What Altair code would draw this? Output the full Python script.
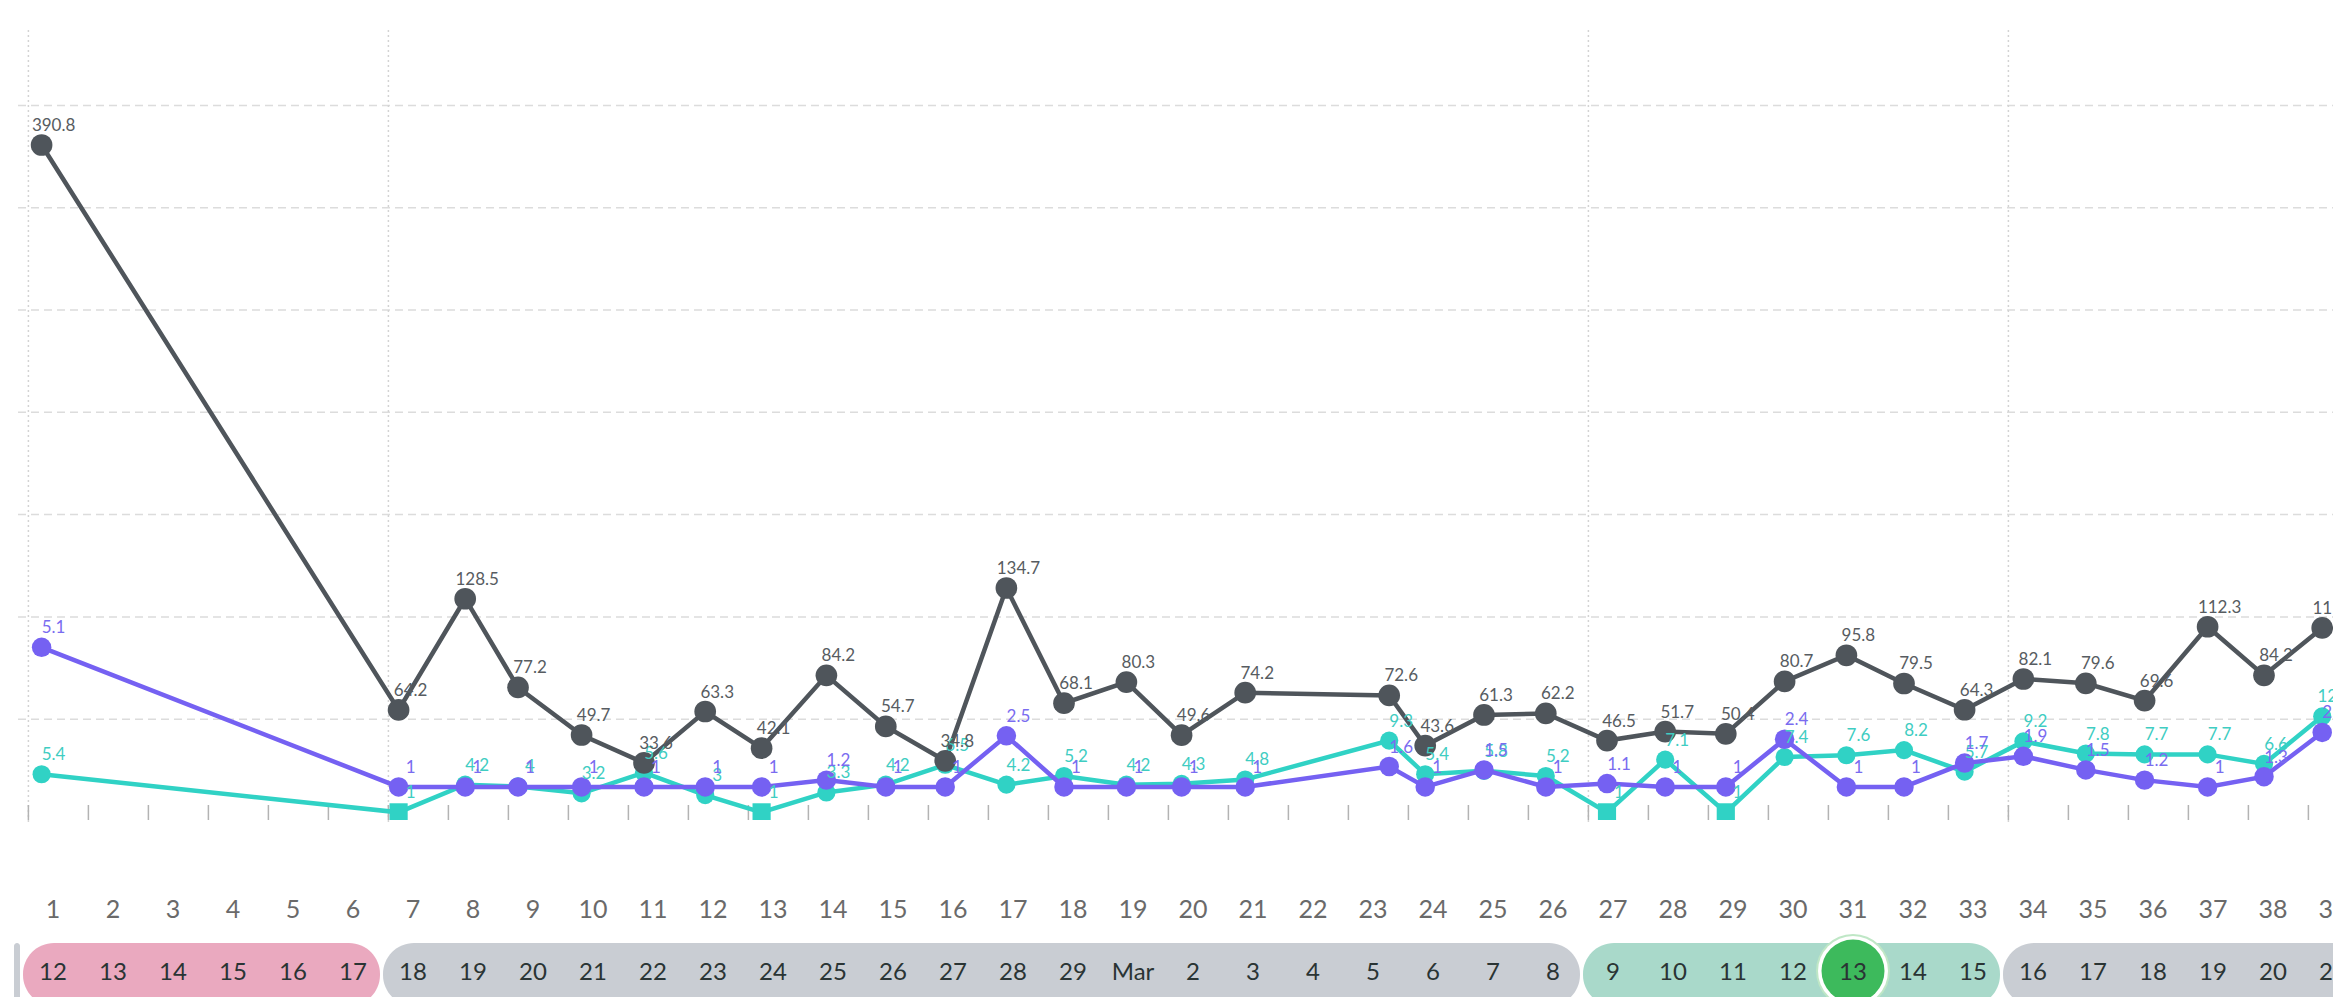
import altair as alt
import pandas as pd

# ---------------- data ----------------
# reading time, in cycle-day units (day d label sits at d)
read_time = [0.81, 6.76, 7.87, 8.75, 9.81, 10.85, 11.87, 12.81, 13.89, 14.88,
             15.87, 16.89, 17.85, 18.89, 19.81, 20.87, 23.27, 23.87, 24.85, 25.88,
             26.9, 27.87, 28.88, 29.86, 30.89, 31.85, 32.86, 33.84, 34.88, 35.86,
             36.91, 37.85, 38.82]
gray_vals = [390.8, 64.2, 128.5, 77.2, 49.7, 33.6, 63.3, 42.1, 84.2, 54.7,
             34.8, 134.7, 68.1, 80.3, 49.6, 74.2, 72.6, 43.6, 61.3, 62.2,
             46.5, 51.7, 50.4, 80.7, 95.8, 79.5, 64.3, 82.1, 79.6, 69.6,
             112.3, 84.2, 111.6]
purple_vals = [5.1, 1, 1, 1, 1, 1, 1, 1, 1.2, 1,
               1, 2.5, 1, 1, 1, 1, 1.6, 1, 1.5, 1,
               1.1, 1, 1, 2.4, 1, 1, 1.7, 1.9, 1.5, 1.2,
               1, 1.3, 2.6]
teal_vals = [5.4, 1, 4.2, 4, 3.2, 5.6, 3, 1, 3.3, 4.2,
             6.5, 4.2, 5.2, 4.2, 4.3, 4.8, 9.3, 5.4, 5.8, 5.2,
             1, 7.1, 1, 7.4, 7.6, 8.2, 5.7, 9.2, 7.8, 7.7,
             7.7, 6.6, 12.1]

cycle_days = list(range(1, 40))
date_labels = ["12", "13", "14", "15", "16", "17", "18", "19", "20", "21",
               "22", "23", "24", "25", "26", "27", "28", "29", "Mar", "2",
               "3", "4", "5", "6", "7", "8", "9", "10", "11", "12",
               "13", "14", "15", "16", "17", "18", "19", "20", "21"]

phase_start = [0.85, 1, 7, 27, 34]
phase_end = [0, 6, 26, 33, 45]
phase_color = ["#c9cdd3", "#eaa9bf", "#c9cdd3", "#a9d9ca", "#c9cdd3"]
phase_bounds = [1, 7, 27, 34]
today_day = [31]
grid_levels = [1, 2, 3, 4, 5, 6, 7]

# ---------------- style ----------------
FONT = "Lato"
GRAY, PURPLE, TEAL = "#4f555b", "#7561f2", "#30d2c5"
GRAY_T, PURPLE_T, TEAL_T = "#575c61", "#7a6cf0", "#3fcdc2"
TICK_OFF = 0.41

xs = alt.Scale(domain=[1, 39], range=[53, 2333], nice=False, zero=False)
NOX = dict(scale=xs, axis=None)

series_df = pd.DataFrame({"t": read_time, "g": gray_vals, "p": purple_vals, "c": teal_vals})
series_df["low"] = ["y" if v <= 1 else "n" for v in teal_vals]

grid_df = pd.DataFrame({"level": grid_levels})
bound_df = pd.DataFrame({"b": [b - TICK_OFF for b in phase_bounds]})
tick_df = pd.DataFrame({"tk": [d - TICK_OFF for d in cycle_days]})
day_df = pd.DataFrame({"day": cycle_days, "lab": [str(d) for d in cycle_days], "date": date_labels})
phase_df = pd.DataFrame({"x0": [s - 0.5 for s in phase_start],
                         "x1": [e + 0.45 for e in phase_end],
                         "col": phase_color})
today_df = pd.DataFrame({"day": today_day})

grid = alt.Chart(grid_df).mark_rule(strokeDash=[8, 5], color="#dcdcdc", strokeWidth=1.5).encode(
    y=alt.Y("level:Q", scale=alt.Scale(domain=[0, 1], range=[821.5, 719.2], nice=False, zero=False), axis=None),
    x=alt.value(18), x2=alt.value(2333))

vlines = alt.Chart(bound_df).mark_rule(strokeDash=[2, 3], color="#d3d3d3", strokeWidth=1.5).encode(
    x=alt.X("b:Q", **NOX), y=alt.value(30), y2=alt.value(822))

ticks = alt.Chart(tick_df).mark_rule(color="#b3b3b3", strokeWidth=1.5).encode(
    x=alt.X("tk:Q", **NOX), y=alt.value(805), y2=alt.value(820))

sc_gray = alt.Scale(domain=[0, 100], range=[821, 648.02], nice=False, zero=False)
sc_purple = alt.Scale(domain=[0, 1], range=[821, 786.94], nice=False, zero=False)
sc_teal = alt.Scale(domain=[0, 1], range=[821, 812.35], nice=False, zero=False)


def base(field, sc):
    return alt.Chart(series_df).encode(x=alt.X("t:Q", **NOX),
                                       y=alt.Y(f"{field}:Q", scale=sc, axis=None))


teal_line = base("c", sc_teal).mark_line(color=TEAL, strokeWidth=4.5, clip=True)
teal_pts = base("c", sc_teal).mark_point(filled=True, opacity=1, color=TEAL, size=330, clip=True).encode(
    shape=alt.Shape("low:N", scale=alt.Scale(domain=["n", "y"], range=["circle", "square"]), legend=None))
purple_line = base("p", sc_purple).mark_line(color=PURPLE, strokeWidth=4.5, clip=True)
purple_pts = base("p", sc_purple).mark_point(filled=True, opacity=1, color=PURPLE, size=380, shape="circle", clip=True)
gray_line = base("g", sc_gray).mark_line(color=GRAY, strokeWidth=4.5, clip=True)
gray_pts = base("g", sc_gray).mark_point(filled=True, opacity=1, color=GRAY, size=470, shape="circle", clip=True)

LBL = dict(dx=12, dy=-19, fontSize=17, font=FONT, align="center", baseline="middle")
teal_lbl = base("c", sc_teal).mark_text(color=TEAL_T, **LBL).encode(text=alt.Text("c:Q", format="~g"))
purple_lbl = base("p", sc_purple).mark_text(color=PURPLE_T, **LBL).encode(text=alt.Text("p:Q", format="~g"))
gray_lbl = base("g", sc_gray).mark_text(color=GRAY_T, **LBL).encode(text=alt.Text("g:Q", format="~g"))

day_row = alt.Chart(day_df).mark_text(fontSize=25, font=FONT, color="#6a6a6a", baseline="middle").encode(
    x=alt.X("day:Q", **NOX), y=alt.value(910), text="lab:N")

pills = alt.Chart(phase_df).mark_bar(cornerRadius=31).encode(
    x=alt.X("x0:Q", **NOX), x2="x1:Q", y=alt.value(943), y2=alt.value(1006),
    color=alt.Color("col:N", scale=None))

today_outer = alt.Chart(today_df).mark_point(filled=True, opacity=1, shape="circle", size=74 * 74, color="#bfe7c6").encode(
    x=alt.X("day:Q", **NOX), y=alt.value(971))
today_white = alt.Chart(today_df).mark_point(filled=True, opacity=1, shape="circle", size=70 * 70, color="#ffffff").encode(
    x=alt.X("day:Q", **NOX), y=alt.value(971))
today_fill = alt.Chart(today_df).mark_point(filled=True, opacity=1, shape="circle", size=63 * 63, color="#3dba5c").encode(
    x=alt.X("day:Q", **NOX), y=alt.value(971))

date_row = alt.Chart(day_df).mark_text(fontSize=24, font=FONT, color="#2a3434", baseline="middle").encode(
    x=alt.X("day:Q", **NOX), y=alt.value(973), text="date:N")

chart = alt.layer(
    grid, vlines, ticks,
    teal_line, teal_pts, purple_line, purple_pts, gray_line, gray_pts,
    teal_lbl, purple_lbl, gray_lbl,
    day_row, pills, today_outer, today_white, today_fill, date_row,
).resolve_scale(y="independent").properties(
    width=2333, height=820,
    padding={"left": 0, "top": 0, "right": 0, "bottom": 177},
    autosize=alt.AutoSizeParams(type="none"),
    background="white",
).configure_view(stroke=None)

chart.save("out.html", embed_options={"renderer": "svg", "actions": False})
